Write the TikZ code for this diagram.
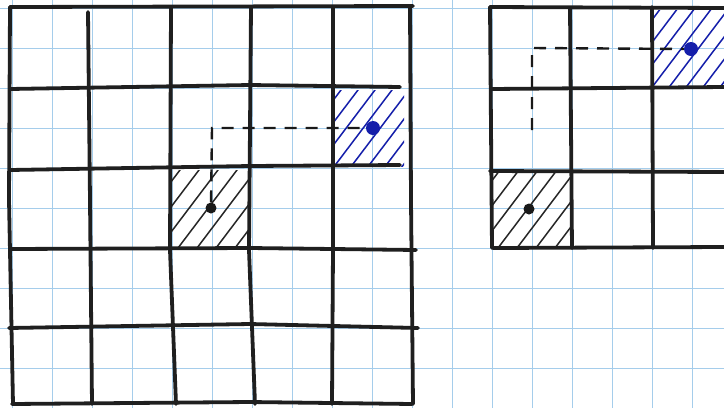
\documentclass[tikz,border=0pt]{standalone}
\definecolor{gridblue}{RGB}{165,205,235}
\definecolor{penblue}{RGB}{20,30,170}
\begin{document}
\begin{tikzpicture}[x=1pt,y=-1pt,
  paper/.style={draw=gridblue,line width=1pt},
  ink/.style={draw=black!88,line width=3.8pt,line cap=round,line join=round},
  hatchk/.style={draw=black!85,line width=1.5pt,line cap=round},
  hatchb/.style={draw=penblue,line width=1.5pt,line cap=round},
  route/.style={draw=black!90,line width=2.4pt,dash pattern=on 12pt off 9pt},
  dotk/.style={circle,fill=black!90,inner sep=0pt,minimum size=11pt},
  dotb/.style={circle,fill=penblue,inner sep=0pt,minimum size=14pt}]
\fill[white] (0,0) rectangle (724,408);
\useasboundingbox (0,0) rectangle (724,408);
% graph paper
\foreach \x in {12,52,...,700} \draw[paper] (\x,0) -- (\x,408);
\foreach \y in {8,48,...,400} \draw[paper] (0,\y) -- (724,\y);
% hatching
\begin{scope}
  \clip (172,170) rectangle (250,246);
  \foreach \t in {-70,-51,...,90} \draw[hatchk] (172+\t,248) -- ++(62,-82);
\end{scope}
\begin{scope}
  \clip (335,90) rectangle (404,166);
  \foreach \t in {-70,-53,...,90} \draw[hatchb] (335+\t,168) -- ++(62,-82);
\end{scope}
\begin{scope}
  \clip (652,10) rectangle (724,88);
  \foreach \t in {-70,-53,...,90} \draw[hatchb] (652+\t,90) -- ++(62,-82);
\end{scope}
\begin{scope}
  \clip (492,170) rectangle (570,246);
  \foreach \t in {-70,-51,...,90} \draw[hatchk] (492+\t,248) -- ++(62,-82);
\end{scope}
% left hand-drawn grid
\draw[ink] (10,7) -- (413,6);
\draw[ink] (10,89) -- (250,85) -- (400,87);
\draw[ink] (10,170) -- (250,166) -- (400,165);
\draw[ink] (10,249) -- (250,248) -- (416,250);
\draw[ink] (9,328) -- (250,324) -- (418,328);
\draw[ink] (12,404) -- (250,402) -- (412,404);
\draw[ink] (10,7) -- (9,200) -- (13,404);
\draw[ink] (88,12) -- (90,200) -- (92,404);
\draw[ink] (171,7) -- (170,250) -- (176,404);
\draw[ink] (251,7) -- (249,250) -- (255,404);
\draw[ink] (333,7) -- (333,250) -- (332,404);
\draw[ink] (410,6) -- (411,200) -- (413,404);
% right hand-drawn grid
\draw[ink] (490,7) -- (724,8);
\draw[ink] (492,89) -- (724,87);
\draw[ink] (490,171) -- (724,172);
\draw[ink] (493,248) -- (724,247);
\draw[ink] (490,7) -- (492,248);
\draw[ink] (570,8) -- (572,248);
\draw[ink] (652,7) -- (653,248);
% points and routes
\node[dotk] (ka) at (211,208) {};
\node[dotb] (ba) at (373,128) {};
\coordinate (ca) at (212,128);
\draw[route] (ka) -- (ca) -- (ba);
\node[dotk] (kb) at (529,209) {};
\node[dotb] (bb) at (691,49) {};
\coordinate (sb) at (532,130);
\coordinate (cb) at (532,48);
\draw[route] (sb) -- (cb) -- (bb);
\end{tikzpicture}
\end{document}
